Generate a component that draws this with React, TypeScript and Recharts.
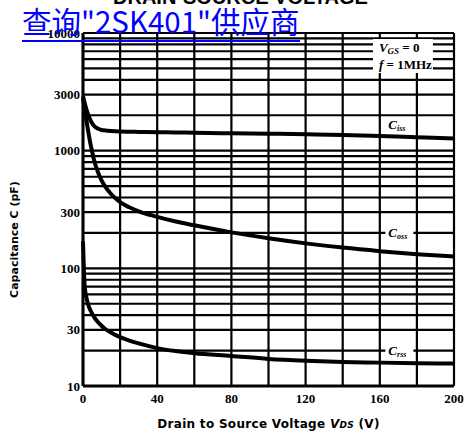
import { LineChart, Line, XAxis, YAxis, CartesianGrid, ReferenceDot, Label } from 'recharts';

// values (pF vs V)
const voltage = [0, 0.5, 1, 2, 3, 4, 5, 6, 8, 10, 12, 15, 20, 25, 30, 40, 50, 60, 80, 100, 120, 140, 160, 180, 200];
const ciss = [2900, 2700, 2500, 2200, 1980, 1820, 1700, 1620, 1540, 1500, 1485, 1470, 1455, 1448, 1443, 1435, 1428, 1420, 1405, 1395, 1380, 1360, 1330, 1300, 1270];
const coss = [2800, 2500, 2200, 1750, 1400, 1150, 970, 830, 660, 560, 495, 430, 365, 330, 305, 274, 250, 232, 202, 180, 163, 150, 140, 132, 126];
const crss = [170, 95, 68, 55, 48, 44, 41, 38.5, 35, 32.5, 30.5, 28.5, 26, 24.3, 23, 21, 19.8, 19, 18, 17, 16.4, 16, 15.8, 15.6, 15.5];

const xTicks = [0, 20, 40, 60, 80, 100, 120, 140, 160, 180, 200];
const xLabels = [0, 40, 80, 120, 160, 200];
const yTicks = [10, 20, 30, 40, 50, 60, 70, 80, 90, 100, 200, 300, 400, 500, 600, 700, 800, 900, 1000, 2000, 3000, 4000, 5000, 6000, 7000, 8000, 9000, 10000];
const yLabels = [10, 30, 100, 300, 1000, 3000, 10000];

const data = voltage.map((v, i) => ({ v, ciss: ciss[i], coss: coss[i], crss: crss[i] }));

const serif = 'Liberation Serif';

const CurveTag = (props: any) => {
  const { cx, cy, sub } = props;
  return (
    <g>
      <rect x={cx - 13} y={cy - 8} width={28} height={15} fill="#fff" />
      <text x={cx - 10} y={cy + 4} fontFamily={serif} fontStyle="italic" fontWeight="bold" fontSize={13} fill="#000">
        C<tspan fontSize={8} dy={2}>{sub}</tspan>
      </text>
    </g>
  );
};

const Conditions = (props: any) => {
  const { cx, cy } = props;
  return (
    <g>
      <rect x={cx - 31} y={cy - 16} width={60} height={34} fill="#fff" />
      <text x={cx - 25} y={cy - 3} fontFamily={serif} fontWeight="bold" fontSize={13} fill="#000">
        <tspan fontStyle="italic">V</tspan>
        <tspan fontSize={9} dy={2} fontStyle="italic">GS</tspan>
        <tspan dy={-2}> = 0</tspan>
      </text>
      <text x={cx - 25} y={cy + 14} fontFamily={serif} fontWeight="bold" fontSize={13} fill="#000">
        <tspan fontStyle="italic">f</tspan> = 1MHz
      </text>
    </g>
  );
};

export default function App() {
  return (
    <div style={{ position: 'absolute', left: 0, top: 0, width: 464, height: 436, background: '#fff' }}>
      <LineChart width={464} height={436} data={data} margin={{ top: 33, right: 10, bottom: 0, left: 0 }}>
        <CartesianGrid stroke="#000" strokeWidth={2.2} />
        <XAxis
          dataKey="v"
          type="number"
          domain={[0, 200]}
          ticks={xTicks}
          interval={0}
          tickFormatter={(v: number) => (xLabels.includes(v) ? String(v) : '')}
          tickLine={false}
          axisLine={{ stroke: '#000', strokeWidth: 3 }}
          height={50}
          tick={{ fill: '#000', fontSize: 13, fontFamily: serif, fontWeight: 'bold' }}
        >
          <Label
            content={({ viewBox }: any) => (
              <text
                x={viewBox.x + viewBox.width / 2}
                y={viewBox.y + 42}
                textAnchor="middle"
                fontFamily="DejaVu Sans"
                fontWeight="bold"
                fontSize={12}
                letterSpacing={0.3}
                fill="#000"
              >
                Drain to Source Voltage <tspan fontStyle="italic">V</tspan>
                <tspan fontStyle="italic" fontSize={9}>DS</tspan> (V)
              </text>
            )}
          />
        </XAxis>
        <YAxis
          type="number"
          scale="log"
          domain={[10, 10000]}
          allowDataOverflow
          ticks={yTicks}
          interval={0}
          tickFormatter={(v: number) => (yLabels.includes(v) ? String(v) : '')}
          tickLine={false}
          tickSize={2}
          tickMargin={1}
          axisLine={{ stroke: '#000', strokeWidth: 3 }}
          width={83}
          tick={{ fill: '#000', fontSize: 13, fontFamily: serif, fontWeight: 'bold' }}
        >
          <Label
            content={({ viewBox }: any) => {
              const cy = viewBox.y + viewBox.height / 2 + 30;
              return (
                <text
                  x={18}
                  y={cy}
                  transform={`rotate(-90 18 ${cy})`}
                  textAnchor="middle"
                  fontFamily="DejaVu Sans"
                  fontWeight="bold"
                  fontSize={11}
                  fill="#000"
                >
                  Capacitance C (pF)
                </text>
              );
            }}
          />
        </YAxis>
        <Line type="monotone" dataKey="ciss" stroke="#000" strokeWidth={4} dot={false} isAnimationActive={false} />
        <Line type="monotone" dataKey="coss" stroke="#000" strokeWidth={4} dot={false} isAnimationActive={false} />
        <Line type="monotone" dataKey="crss" stroke="#000" strokeWidth={4} dot={false} isAnimationActive={false} />
        <ReferenceDot x={170} y={1650} r={0} shape={(p: any) => <CurveTag {...p} sub="iss" />} />
        <ReferenceDot x={170} y={200} r={0} shape={(p: any) => <CurveTag {...p} sub="oss" />} />
        <ReferenceDot x={170} y={20} r={0} shape={(p: any) => <CurveTag {...p} sub="rss" />} />
        <ReferenceDot x={173} y={6500} r={0} shape={(p: any) => <Conditions {...p} />} />
      </LineChart>
      <div
        style={{
          position: 'absolute',
          left: 113,
          top: -14,
          fontFamily: 'Liberation Sans',
          fontWeight: 'bold',
          fontSize: 20,
          color: '#000',
          whiteSpace: 'nowrap',
        }}
      >
        DRAIN-SOURCE VOLTAGE
      </div>
      <div
        style={{
          position: 'absolute',
          left: 22,
          top: 0,
          fontFamily: '"Noto Sans CJK SC", "Noto Sans"',
          fontSize: 29.5,
          lineHeight: '40px',
          color: '#0000ff',
          borderBottom: '2px solid #0000ff',
          whiteSpace: 'nowrap',
        }}
      >
        查询"2SK401"供应商
      </div>
    </div>
  );
}
